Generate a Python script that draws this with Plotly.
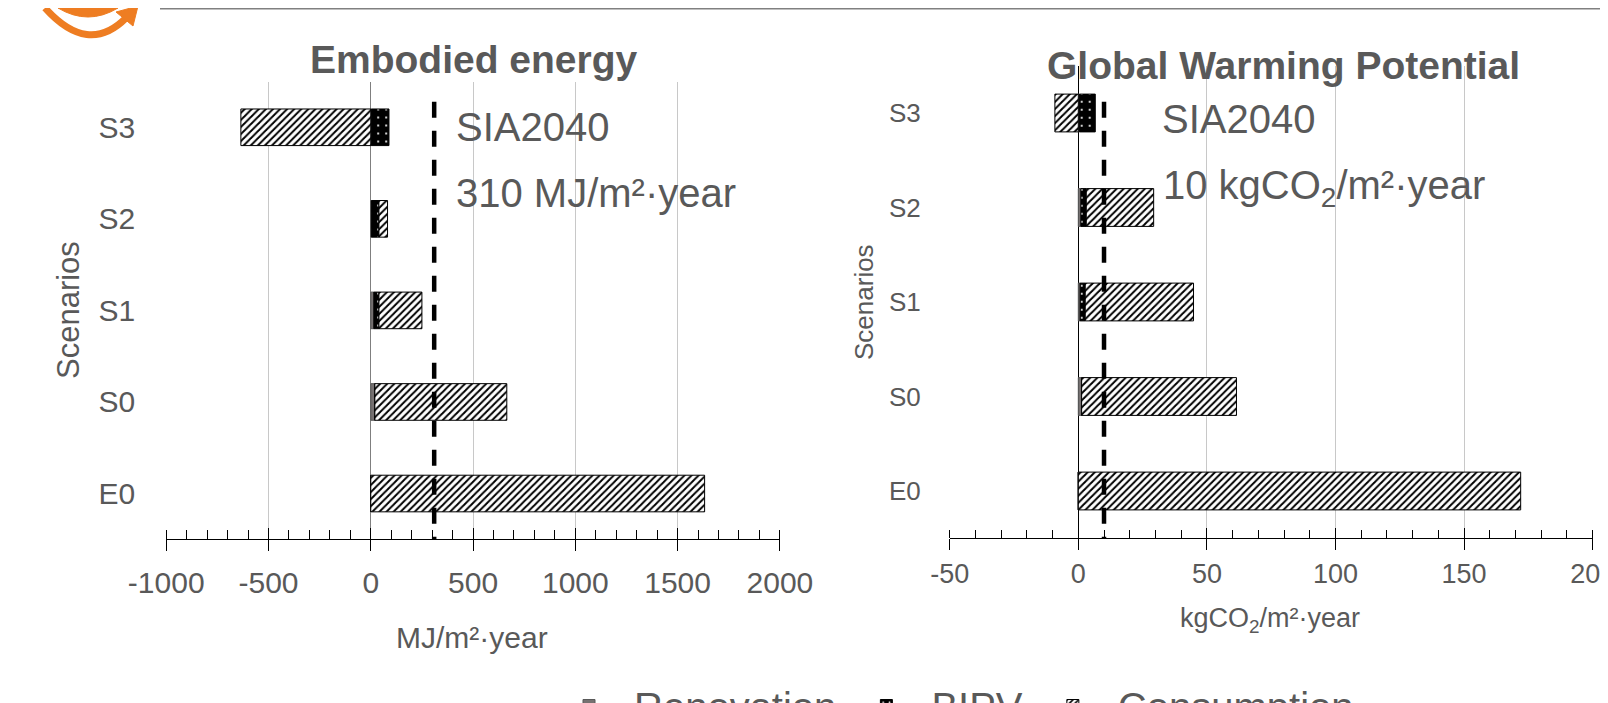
import plotly.graph_objects as go

W, H = 1608, 703

# ---------------- data ----------------
SCENARIOS = ["E0", "S0", "S1", "S2", "S3"]

# Embodied energy (MJ/m²·year)
EE_RENOVATION = [0, 20, 15, 3, 3]
EE_BIPV = [0, 0, 25, 37, 86]
EE_CONSUMPTION = [1632, 645, 210, 42, -635]

# Global warming potential (kgCO2/m²·year)
GWP_RENOVATION = [0, 1.3, 0.7, 1.0, 0.5]
GWP_BIPV = [0, 0, 2.0, 2.1, 6.1]
GWP_CONSUMPTION = [172, 60.2, 42.1, 26.2, -9.1]

SIA_EE = 310
SIA_GWP = 10

EE_TICKS = [-1000, -500, 0, 500, 1000, 1500, 2000]
EE_TICK_LABELS = ["-1000", "-500", "0", "500", "1000", "1500", "2000"]
GWP_TICKS = [-50, 0, 50, 100, 150, 200]
GWP_TICK_LABELS = ["-50", "0", "50", "100", "150", "200"]

SERIES_NAMES = ["Renovation", "BIPV", "Consumption"]

# ---------------- style ----------------
FONT = "Liberation Sans, Arial, sans-serif"
TXT = "#595959"


def X(px):
    return px / W


def Y(py):
    return 1 - py / H


MARKERS = [
    dict(color="#767171", line=dict(color="#595959", width=1)),
    dict(color="black", line=dict(color="black", width=1),
         pattern=dict(shape=".", fgcolor="white", bgcolor="black", size=8, solidity=0.06,
                      fillmode="replace")),
    dict(color="white", line=dict(color="black", width=1),
         pattern=dict(shape="/", fgcolor="black", bgcolor="white", size=5, solidity=0.4,
                      fillmode="replace")),
]

fig = go.Figure()

for xa, ya, series, show in [
    ("x", "y", [EE_RENOVATION, EE_BIPV, EE_CONSUMPTION], True),
    ("x2", "y2", [GWP_RENOVATION, GWP_BIPV, GWP_CONSUMPTION], False),
]:
    for name, vals, mk in zip(SERIES_NAMES, series, MARKERS):
        fig.add_trace(go.Bar(
            y=SCENARIOS, x=vals, orientation="h", name=name, marker=mk,
            width=0.4, xaxis=xa, yaxis=ya, showlegend=show, legendgroup=name,
        ))

# empty traces to hold the overlay axes (upper half of the major ticks)
fig.add_trace(go.Scatter(x=[None], y=[None], xaxis="x3", yaxis="y", showlegend=False,
                         hoverinfo="skip", mode="lines"))
fig.add_trace(go.Scatter(x=[None], y=[None], xaxis="x4", yaxis="y2", showlegend=False,
                         hoverinfo="skip", mode="lines"))

common_x = dict(
    ticks="outside", ticklen=11, tickcolor="black", tickwidth=1,
    showline=True, linecolor="black", linewidth=1,
    showgrid=True, gridcolor="#c8c8c8", gridwidth=1,
    zeroline=True, zerolinewidth=1, ticklabeloverflow="allow",
    fixedrange=True,
)
common_y = dict(
    type="category", categoryorder="array", categoryarray=SCENARIOS,
    range=[-0.5, 4.5], showgrid=False, showline=False, zeroline=False, ticks="",
    fixedrange=True,
)

L_DOM = [X(158.2), X(771.9)]
R_DOM = [X(941.7), X(1584.7)]

fig.update_layout(
    width=W, height=H,
    margin=dict(l=0, r=0, t=0, b=0, autoexpand=False),
    paper_bgcolor="white", plot_bgcolor="white",
    barmode="relative",
    font=dict(family=FONT, color=TXT),
    xaxis=dict(domain=L_DOM, anchor="y", range=[-1000, 2000],
               tickmode="array", tickvals=EE_TICKS, ticktext=EE_TICK_LABELS,
               zerolinecolor="#7f7f7f", ticklabelstandoff=6,
               tickfont=dict(family=FONT, size=30, color=TXT),
               minor=dict(tick0=0, dtick=100, ticks="inside", ticklen=9,
                          tickcolor="black", showgrid=False),
               **common_x),
    yaxis=dict(domain=[Y(531.3), Y(73.5)], anchor="x",
               tickfont=dict(family=FONT, size=30, color=TXT),
               ticklabelstandoff=30, **common_y),
    xaxis2=dict(domain=R_DOM, anchor="y2", range=[-50, 200],
                tickmode="array", tickvals=GWP_TICKS, ticktext=GWP_TICK_LABELS,
                zerolinecolor="black", ticklabelstandoff=0,
                tickfont=dict(family=FONT, size=27, color=TXT),
                minor=dict(tick0=0, dtick=10, ticks="inside", ticklen=8,
                           tickcolor="black", showgrid=False),
                **common_x),
    yaxis2=dict(domain=[Y(530.25), Y(57.75)], anchor="x2",
                tickfont=dict(family=FONT, size=26, color=TXT),
                ticklabelstandoff=28, **common_y),
    xaxis3=dict(overlaying="x", anchor="y", range=[-1000, 2000],
                tickmode="array", tickvals=EE_TICKS, ticks="inside", ticklen=11,
                tickcolor="black", showticklabels=False, showgrid=False,
                zeroline=False, showline=False, fixedrange=True),
    xaxis4=dict(overlaying="x2", anchor="y2", range=[-50, 200],
                tickmode="array", tickvals=GWP_TICKS, ticks="inside", ticklen=10,
                tickcolor="black", showticklabels=False, showgrid=False,
                zeroline=False, showline=False, fixedrange=True),
    legend=dict(orientation="h", x=X(536), xanchor="left", y=Y(665), yanchor="top",
                yref="container", xref="container", itemwidth=80, valign="top",
                font=dict(family=FONT, size=40, color=TXT),
                bgcolor="rgba(0,0,0,0)", traceorder="normal"),
)

# SIA 2040 target lines
fig.add_shape(type="line", xref="x", yref="y", x0=SIA_EE, x1=SIA_EE, y0=4.28, y1=-0.5,
              line=dict(color="black", width=4.5, dash="16px,13px"), layer="above")
fig.add_shape(type="line", xref="x2", yref="y2", x0=SIA_GWP, x1=SIA_GWP, y0=4.12, y1=-0.5,
              line=dict(color="black", width=4.5, dash="16px,13px"), layer="above")

# header decoration (slide line + logo)
fig.add_shape(type="line", xref="paper", yref="paper", x0=X(152), x1=1, y0=Y(0.8), y1=Y(0.8),
              line=dict(color="#808080", width=1.5))

ORANGE = "#EE7D22"
fig.add_shape(type="path", xref="paper", yref="paper",
              path=f"M{X(37)},{Y(0)} Q{X(80)},{Y(48)} {X(118)},{Y(10)}",
              line=dict(color=ORANGE, width=7))
fig.add_shape(type="path", xref="paper", yref="paper",
              path=f"M{X(108)},{Y(4)} L{X(130)},{Y(-2)} L{X(125)},{Y(18)} Z",
              fillcolor=ORANGE, line=dict(color=ORANGE, width=1))
fig.add_shape(type="path", xref="paper", yref="paper",
              path=f"M{X(50)},{Y(0)} Q{X(80)},{Y(18)} {X(110)},{Y(0)} Z",
              fillcolor=ORANGE, line=dict(color=ORANGE, width=1))

ann = [
    # titles
    dict(text="<b>Embodied energy</b>", x=X(466), y=Y(52), size=39, xanchor="center"),
    dict(text="<b>Global Warming Potential</b>", x=X(1275), y=Y(57), size=39, xanchor="center"),
    # SIA annotations
    dict(text="SIA2040", x=X(446), y=Y(119), size=40, xanchor="left"),
    dict(text="310 MJ/m²·year", x=X(446), y=Y(185), size=40, xanchor="left"),
    dict(text="SIA2040", x=X(1152), y=Y(111), size=40, xanchor="left"),
    dict(text="10 kgCO<sub>2</sub>/m²·year", x=X(1153), y=Y(180), size=40, xanchor="left"),
    # axis titles
    dict(text="MJ/m²·year", x=X(464), y=Y(629), size=30, xanchor="center"),
    dict(text="kgCO<sub>2</sub>/m²·year", x=X(1262), y=Y(612), size=27, xanchor="center"),
]
for a in ann:
    fig.add_annotation(text=a["text"], x=a["x"], y=a["y"], xref="paper", yref="paper",
                       xanchor=a["xanchor"], yanchor="middle", showarrow=False,
                       font=dict(family=FONT, size=a["size"], color=TXT))

fig.add_annotation(text="Scenarios", x=X(60), y=Y(302), xref="paper", yref="paper",
                   textangle=-90, showarrow=False, xanchor="center", yanchor="middle",
                   font=dict(family=FONT, size=31, color=TXT))
fig.add_annotation(text="Scenarios", x=X(856), y=Y(294), xref="paper", yref="paper",
                   textangle=-90, showarrow=False, xanchor="center", yanchor="middle",
                   font=dict(family=FONT, size=26, color=TXT))

fig.write_html("out.html")
